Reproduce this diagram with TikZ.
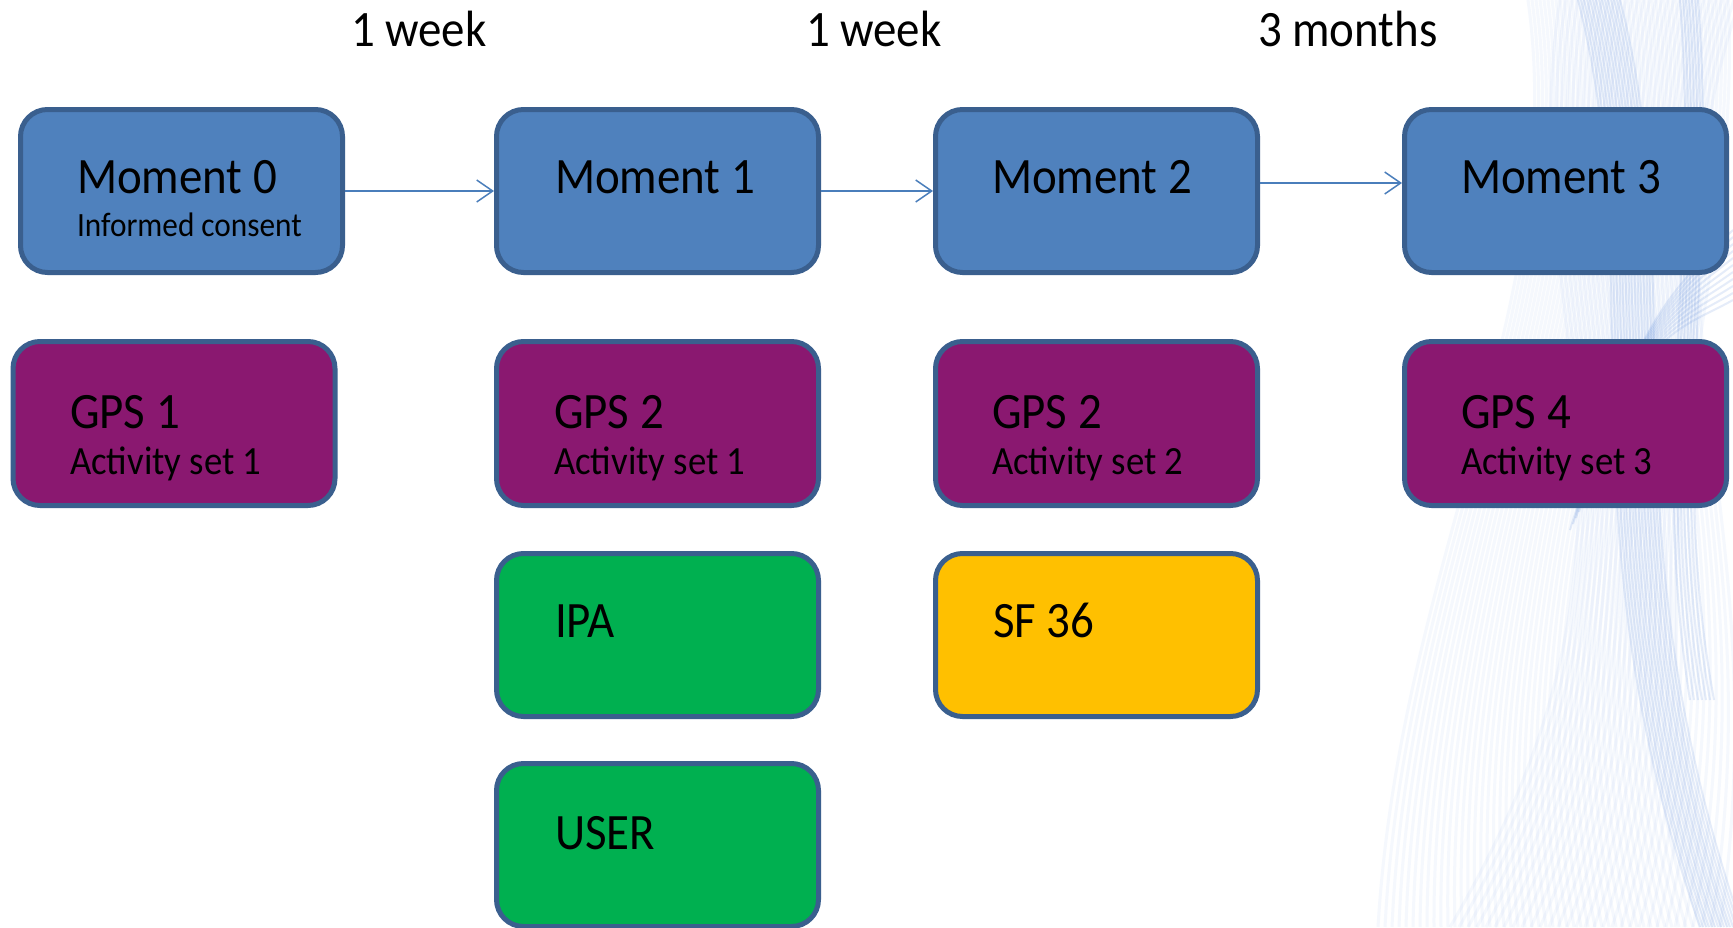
\documentclass[tikz,border=0pt]{standalone}
\usepackage{fontspec}
\setmainfont{Carlito}[FakeStretch=0.92]
\usetikzlibrary{arrows.meta}
\definecolor{mblue}{HTML}{4F81BD}
\definecolor{bord}{HTML}{3A5F8E}
\definecolor{mpurple}{HTML}{8A1870}
\definecolor{mgreen}{HTML}{00B050}
\definecolor{myellow}{HTML}{FFC000}
\definecolor{arrc}{HTML}{4A7EBB}
\definecolor{strl}{HTML}{9DBBF0}
\definecolor{strd}{HTML}{4A7ED6}
\newcommand\fbig{\fontsize{51}{60}\selectfont}
\newcommand\fmid{\fontsize{40}{46}\selectfont}
\newcommand\fsml{\fontsize{34}{40}\selectfont}
\tikzset{
  box/.style={draw=bord, line width=5pt, rounded corners=27pt, minimum width=322pt, minimum height=163pt, inner sep=0pt},
  txt/.style={anchor=base west, inner sep=0pt, outer sep=0pt, text=black},
  arr/.style={draw=arrc, line width=1.5pt, -{Straight Barb[length=16pt,width=22pt,line width=1.5pt]}},
  strand/.style={draw=strl, line width=3pt, opacity=0.10},
  dstrand/.style={draw=strd, line width=2pt, opacity=0.14}
}
\begin{document}
\begin{tikzpicture}[x=1pt,y=-1pt]
\fill[white] (0,0) rectangle (1733,927);
\useasboundingbox (0,0) rectangle (1733,927);
\begin{scope}
\clip (0,0) rectangle (1733,927);
\foreach \i in {0,...,50}{
  \draw[strand] (1528+4*\i,0) .. controls (1570+3.5*\i,300) and (1400+4*\i,560) .. (1378+7*\i,927);
}
\foreach \i in {0,...,30}{
  \draw[strand] (1560+6*\i,0) .. controls (1510+4*\i,320) and (1690+3*\i,520) .. (1450+9*\i,927);
}
\foreach \i in {0,...,14}{
  \draw[dstrand] (1578+3*\i,0) .. controls (1650+3*\i,280) and (1560+3*\i,520) .. (1700+3*\i,927);
}
\foreach \i in {0,...,10}{
  \draw[dstrand] (1733,230+7*\i) .. controls (1680,280+5*\i) and (1630,330) .. (1600-3*\i,470+6*\i);
}
\foreach \i in {0,...,6}{
  \draw[dstrand] (1680+3*\i,0) .. controls (1700+3*\i,250) and (1650+3*\i,450) .. (1690+4*\i,700);
}
\end{scope}

% Top labels
\node[txt] (w1) at (351,46) {\fbig 1 week};
\node[txt] (w2) at (806,46) {\fbig 1 week};
\node[txt] (w3) at (1258,46) {\fbig 3 months};

% Moment row
\node[box, fill=mblue] (m0) at (181.5,191) {};
\node[box, fill=mblue] (m1) at (657.5,191) {};
\node[box, fill=mblue] (m2) at (1096.5,191) {};
\node[box, fill=mblue] (m3) at (1565.5,191) {};
\node[txt] (m0t) at (77,193) {\fbig Moment 0};
\node[txt] (m0s) at (77,236) {\fsml Informed consent};
\node[txt] (m1t) at (555,193) {\fbig Moment 1};
\node[txt] (m2t) at (992,193) {\fbig Moment 2};
\node[txt] (m3t) at (1461,193) {\fbig Moment 3};

% Arrows
\draw[arr] (m0.east) -- (m1.west);
\draw[arr] (m1.east) -- (m2.west);
\draw[arr] ([yshift=8pt]m2.east) -- ([yshift=8pt]m3.west);

% GPS row
\node[box, fill=mpurple, minimum height=164pt] (g1) at (174,423.5) {};
\node[box, fill=mpurple, minimum height=164pt] (g2) at (657.5,423.5) {};
\node[box, fill=mpurple, minimum height=164pt] (g3) at (1096.5,423.5) {};
\node[box, fill=mpurple, minimum height=164pt] (g4) at (1565.5,423.5) {};
\node[txt] (g1t) at (70,428) {\fbig GPS 1};
\node[txt] (g1s) at (70,474) {\fmid Activity set 1};
\node[txt] (g2t) at (554,428) {\fbig GPS 2};
\node[txt] (g2s) at (554,474) {\fmid Activity set 1};
\node[txt] (g3t) at (992,428) {\fbig GPS 2};
\node[txt] (g3s) at (992,474) {\fmid Activity set 2};
\node[txt] (g4t) at (1461,428) {\fbig GPS 4};
\node[txt] (g4s) at (1461,474) {\fmid Activity set 3};

% Questionnaires
\node[box, fill=mgreen] (ipa) at (657.5,635) {};
\node[box, fill=myellow] (sf) at (1096.5,635) {};
\node[box, fill=mgreen] (usr) at (657.5,845) {};
\node[txt] (ipat) at (555,637) {\fbig IPA};
\node[txt] (sft) at (993,637) {\fbig SF 36};
\node[txt] (usrt) at (555,849) {\fbig USER};
\end{tikzpicture}
\end{document}
